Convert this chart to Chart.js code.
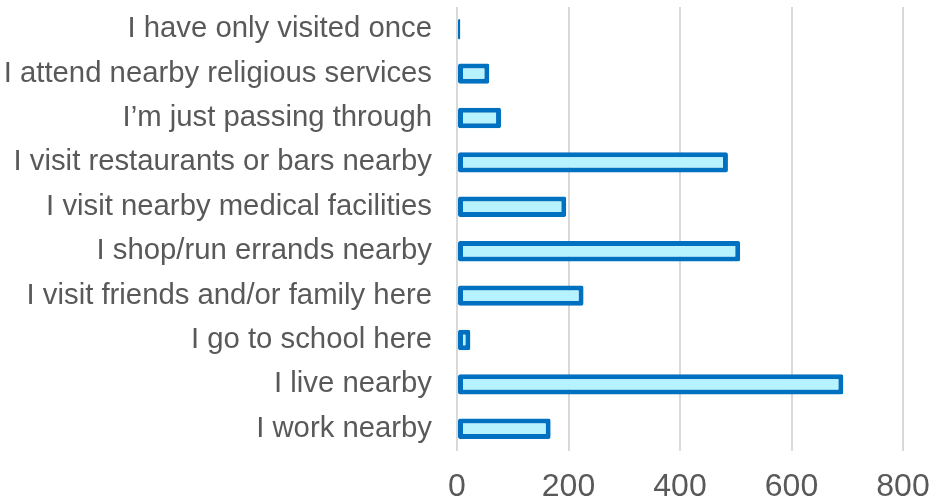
<!DOCTYPE html>
<html>
<head>
<meta charset="utf-8">
<script src="https://cdn.jsdelivr.net/npm/chart.js@4/dist/chart.umd.min.js"></script>
<style>
  html, body { margin: 0; padding: 0; background: #fff; }
  #wrap { width: 936px; height: 499px; }
</style>
</head>
<body>
<div id="wrap"><canvas id="chart"></canvas></div>
<script>
const categories = [
    'I have only visited once',
    'I attend nearby religious services',
    'I\u2019m just passing through',
    'I visit restaurants or bars nearby',
    'I visit nearby medical facilities',
    'I shop/run errands nearby',
    'I visit friends and/or family here',
    'I go to school here',
    'I live nearby',
    'I work nearby'
];
const responses = [6, 58, 79, 486, 196, 508, 227, 24, 693, 168];
const xTicks = [0, 200, 400, 600, 800];

const chart = new Chart(document.getElementById('chart').getContext('2d'), {
    type: 'bar',
    data: {
        labels: categories,
        datasets: [{
            data: responses,
            backgroundColor: '#B7F3FF',
            borderColor: '#0070C0',
            borderWidth: 5,
            borderRadius: 2,
            borderSkipped: false,
            barPercentage: 0.46,
            categoryPercentage: 1
        }]
    },
    options: {
        indexAxis: 'y',
        responsive: true,
        maintainAspectRatio: false,
        animation: false,
        layout: { padding: { top: 7, right: 33, left: 0, bottom: 0 } },
        plugins: {
            legend: { display: false },
            tooltip: { enabled: false }
        },
        scales: {
            x: {
                min: 0,
                max: 800,
                afterBuildTicks: scale => { scale.ticks = xTicks.map(v => ({ value: v })); },
                afterFit: scale => {
                    scale.height = 48;
                    scale.paddingLeft = 0;
                    scale.paddingRight = 0;
                },
                border: { display: false },
                grid: { color: '#D9D9D9', lineWidth: 2, drawTicks: false },
                ticks: {
                    padding: 17,
                    color: '#595959',
                    font: { family: 'Liberation Sans, Arial', size: 32 }
                }
            },
            y: {
                afterFit: scale => {
                    scale.width = 457;
                    scale.paddingTop = 0;
                    scale.paddingBottom = 0;
                },
                border: { display: false },
                grid: { display: false, drawTicks: false },
                ticks: {
                    padding: 25,
                    color: '#595959',
                    font: { family: 'Liberation Sans, Arial', size: 29.3 }
                }
            }
        }
    }
});
</script>
</body>
</html>
